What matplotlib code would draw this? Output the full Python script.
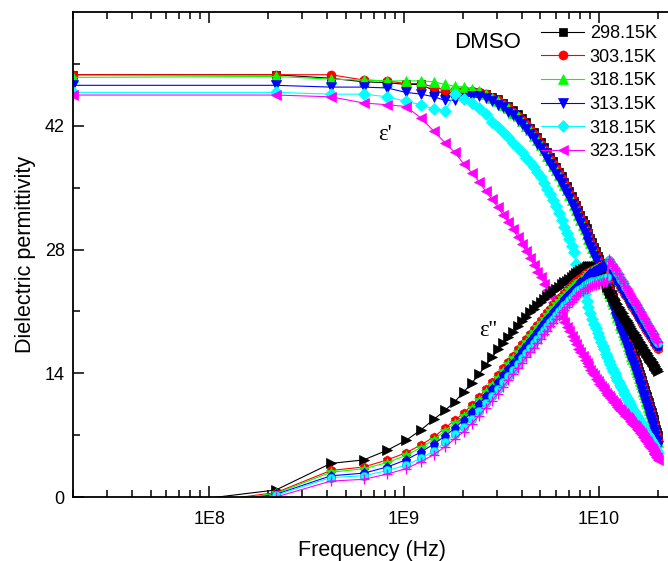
import matplotlib
matplotlib.use("Agg")
import matplotlib.pyplot as plt
from matplotlib.ticker import FixedLocator, NullFormatter, MultipleLocator
import numpy as np

plt.rcParams["font.family"] = ["Liberation Sans", "DejaVu Sans"]

# linear VNA sweep: 20 MHz .. 20.02 GHz, 101 points
freq = np.linspace(2e7, 2.002e10, 101)

labels = ["298.15K", "303.15K", "318.15K", "313.15K", "318.15K", "323.15K"]
colors = ["#000000", "#ff0000", "#00ff00", "#0000ff", "#00ffff", "#ff00ff"]

# real part (epsilon')
eps1_298 = [47.8, 47.8, 47.4, 47.0, 46.9, 46.7, 46.7, 46.0, 45.7, 45.8,
            45.9, 45.8, 45.7, 45.6, 45.3, 45.0, 44.6, 44.3, 43.8, 43.3,
            42.9, 42.4, 41.8, 41.3, 40.7, 40.2, 39.6, 39.1, 38.5, 38.0,
            37.4, 36.8, 36.3, 35.7, 35.2, 34.6, 34.1, 33.5, 33.0, 32.5,
            31.9, 31.4, 30.9, 30.4, 29.9, 29.3, 28.9, 28.3, 27.8, 27.3,
            26.9, 26.5, 25.9, 25.4, 24.9, 24.4, 24.0, 23.5, 23.0, 22.6,
            22.1, 21.6, 21.2, 20.8, 20.3, 19.9, 19.5, 19.1, 18.7, 18.3,
            17.9, 17.6, 17.2, 16.8, 16.5, 16.1, 15.7, 15.3, 15.0, 14.7,
            14.3, 13.9, 13.6, 13.2, 12.8, 12.5, 12.1, 11.7, 11.4, 11.0,
            10.7, 10.3, 9.9, 9.6, 9.2, 8.8, 8.5, 8.1, 7.7, 7.4, 7.0]
eps1_303 = [47.8, 47.8, 47.8, 47.2, 47.1, 46.8, 46.8, 46.4, 46.1, 46.1,
            46.1, 46.0, 45.8, 45.6, 45.2, 44.9, 44.5, 44.1, 43.6, 43.1,
            42.7, 42.2, 41.7, 41.1, 40.6, 40.0, 39.4, 38.9, 38.3, 37.8,
            37.2, 36.7, 36.1, 35.5, 35.0, 34.4, 33.9, 33.3, 32.8, 32.2,
            31.7, 31.1, 30.5, 30.1, 29.5, 29.0, 28.5, 28.0, 27.5, 26.9,
            26.6, 26.0, 25.5, 25.0, 24.4, 24.0, 23.5, 23.0, 22.6, 22.1,
            21.6, 21.2, 20.7, 20.3, 19.9, 19.4, 19.0, 18.7, 18.2, 17.8,
            17.5, 17.1, 16.7, 16.4, 16.0, 15.6, 15.2, 14.9, 14.5, 14.2,
            13.9, 13.5, 13.2, 12.8, 12.4, 12.0, 11.7, 11.3, 10.9, 10.6,
            10.2, 9.8, 9.5, 9.1, 8.7, 8.4, 8.0, 7.6, 7.2, 6.9, 6.5]
eps1_318a = [47.5, 47.6, 47.3, 47.2, 47.1, 47.1, 47.1, 47.0, 46.7, 46.5,
             46.4, 46.2, 46.0, 45.6, 45.2, 44.8, 44.4, 44.0, 43.5, 43.1,
             42.6, 42.0, 41.5, 40.9, 40.4, 39.8, 39.3, 38.6, 38.1, 37.5,
             37.0, 36.4, 35.8, 35.3, 34.7, 34.2, 33.6, 33.0, 32.5, 31.9,
             31.4, 30.8, 30.3, 29.8, 29.2, 28.7, 28.2, 27.7, 27.2, 26.7,
             26.2, 25.6, 25.2, 24.6, 24.1, 23.6, 23.1, 22.7, 22.2, 21.8,
             21.3, 20.8, 20.4, 20.0, 19.5, 19.1, 18.7, 18.3, 17.9, 17.5,
             17.1, 16.8, 16.4, 16.0, 15.6, 15.3, 14.9, 14.5, 14.1, 13.9,
             13.5, 13.1, 12.8, 12.4, 12.0, 11.7, 11.3, 10.9, 10.6, 10.2,
             9.9, 9.5, 9.1, 8.8, 8.4, 8.0, 7.7, 7.3, 6.9, 6.6, 6.2]
eps1_313 = [46.6, 46.6, 46.4, 46.4, 46.3, 45.8, 45.6, 45.3, 44.9, 44.9,
            45.2, 45.4, 45.4, 45.2, 44.8, 44.4, 44.1, 43.6, 43.2, 42.7,
            42.2, 41.7, 41.1, 40.6, 40.0, 39.5, 38.9, 38.3, 37.7, 37.2,
            36.6, 36.0, 35.5, 34.9, 34.4, 33.8, 33.2, 32.7, 32.1, 31.6,
            31.0, 30.5, 29.9, 29.4, 28.9, 28.3, 27.8, 27.3, 26.8, 26.3,
            25.8, 25.3, 24.8, 24.2, 23.7, 23.2, 22.8, 22.3, 21.8, 21.4,
            20.9, 20.4, 20.0, 19.6, 19.1, 18.7, 18.3, 18.0, 17.5, 17.1,
            16.7, 16.4, 16.0, 15.6, 15.3, 14.9, 14.5, 14.1, 13.8, 13.5,
            13.1, 12.7, 12.4, 12.0, 11.6, 11.3, 10.9, 10.5, 10.2, 9.8,
            9.5, 9.1, 8.7, 8.4, 8.0, 7.6, 7.3, 6.9, 6.5, 6.2, 5.8]
eps1_318b = [45.8, 45.8, 45.6, 45.6, 45.3, 44.8, 44.4, 43.9, 43.7, 45.6,
             45.1, 44.6, 44.0, 43.3, 42.5, 41.9, 41.3, 40.8, 40.1, 39.5,
             39.0, 38.4, 37.9, 37.3, 36.8, 36.2, 35.6, 34.9, 34.3, 33.6,
             32.9, 32.1, 31.4, 30.6, 29.9, 29.2, 28.4, 27.7, 26.4, 25.6,
             24.7, 23.8, 23.0, 22.2, 21.5, 20.8, 20.2, 19.6, 19.1, 18.6,
             18.1, 17.6, 17.1, 16.7, 16.2, 15.8, 15.4, 15.0, 14.6, 14.3,
             14.0, 13.6, 13.3, 13.0, 12.7, 12.4, 12.1, 11.8, 11.5, 11.2,
             11.0, 10.7, 10.5, 10.2, 10.0, 9.7, 9.5, 9.3, 9.1, 8.9,
             8.7, 8.5, 8.3, 8.1, 7.9, 7.7, 7.5, 7.3, 7.1, 7.0,
             6.8, 6.6, 6.4, 6.2, 6.0, 5.9, 5.7, 5.5, 5.3, 5.2, 5.0]
eps1_323 = [45.5, 45.5, 45.3, 44.6, 44.4, 44.2, 42.9, 41.4, 40.1, 39.0,
            37.7, 36.7, 35.7, 34.6, 33.7, 32.8, 31.9, 31.1, 30.3, 29.4,
            28.6, 27.8, 27.0, 26.3, 25.5, 24.9, 24.1, 23.4, 22.8, 22.1,
            21.5, 20.9, 20.4, 19.8, 19.2, 18.8, 18.2, 17.8, 17.3, 16.8,
            16.4, 16.0, 15.5, 15.2, 14.8, 14.4, 14.0, 13.8, 13.4, 13.1,
            12.8, 12.6, 12.3, 12.1, 11.8, 11.6, 11.4, 11.2, 11.0, 10.8,
            10.6, 10.4, 10.2, 10.0, 9.9, 9.7, 9.5, 9.4, 9.2, 9.1,
            8.9, 8.8, 8.6, 8.5, 8.3, 8.2, 8.0, 7.9, 7.7, 7.6,
            7.5, 7.3, 7.2, 7.0, 6.8, 6.7, 6.5, 6.3, 6.2, 6.0,
            5.8, 5.7, 5.5, 5.4, 5.2, 5.0, 4.9, 4.7, 4.5, 4.4, 4.2]

# imaginary part (epsilon'')
eps2_298 = [-2.0, 0.8, 3.8, 4.2, 5.3, 6.4, 7.6, 8.8, 9.8, 10.8,
            11.9, 12.9, 13.9, 14.9, 15.8, 16.7, 17.4, 18.1, 18.7, 19.3,
            19.9, 20.4, 20.9, 21.3, 21.7, 22.1, 22.4, 22.7, 23.0, 23.3,
            23.5, 23.8, 24.1, 24.3, 24.5, 24.7, 24.9, 25.1, 25.3, 25.5,
            25.7, 25.8, 25.9, 26.0, 26.1, 26.2, 26.2, 26.2, 26.1, 26.0,
            25.8, 25.5, 25.1, 24.7, 24.3, 23.8, 23.4, 23.1, 22.8, 22.6,
            22.3, 22.0, 21.8, 21.5, 21.3, 21.0, 20.8, 20.5, 20.3, 20.0,
            19.8, 19.6, 19.4, 19.1, 18.9, 18.7, 18.5, 18.3, 18.1, 17.9,
            17.7, 17.5, 17.3, 17.2, 17.0, 16.8, 16.6, 16.4, 16.3, 16.1,
            15.9, 15.7, 15.6, 15.4, 15.3, 15.1, 14.9, 14.8, 14.6, 14.5, 14.3]
eps2_303 = [-2.5, 0.5, 3.0, 3.4, 4.2, 5.0, 5.9, 6.8, 7.8, 8.7,
            9.5, 10.4, 11.3, 12.2, 13.0, 13.8, 14.6, 15.3, 16.0, 16.7,
            17.3, 17.9, 18.5, 19.0, 19.5, 20.0, 20.5, 20.9, 21.3, 21.7,
            22.1, 22.5, 22.8, 23.1, 23.4, 23.7, 24.0, 24.2, 24.4, 24.6,
            24.8, 25.0, 25.2, 25.3, 25.5, 25.6, 25.7, 25.8, 25.9, 26.0,
            26.1, 26.1, 26.2, 26.2, 26.2, 26.1, 26.0, 25.7, 25.4, 25.2,
            24.9, 24.6, 24.4, 24.1, 23.9, 23.6, 23.4, 23.1, 22.9, 22.6,
            22.4, 22.2, 22.0, 21.7, 21.5, 21.3, 21.1, 20.9, 20.7, 20.5,
            20.3, 20.1, 19.9, 19.7, 19.5, 19.3, 19.1, 18.9, 18.8, 18.6,
            18.4, 18.2, 18.1, 17.9, 17.8, 17.6, 17.4, 17.3, 17.1, 17.0, 16.8]
eps2_318a = [-2.7, 0.4, 2.8, 3.2, 3.9, 4.7, 5.6, 6.5, 7.5, 8.4,
             9.2, 10.1, 11.0, 11.9, 12.7, 13.5, 14.3, 15.0, 15.7, 16.4,
             17.0, 17.6, 18.2, 18.7, 19.2, 19.7, 20.2, 20.6, 21.0, 21.4,
             21.8, 22.2, 22.5, 22.8, 23.1, 23.4, 23.7, 23.9, 24.1, 24.3,
             24.5, 24.7, 24.9, 25.1, 25.3, 25.4, 25.6, 25.7, 25.8, 25.9,
             26.0, 26.1, 26.2, 26.3, 26.3, 26.3, 26.2, 25.9, 25.6, 25.4,
             25.1, 24.8, 24.6, 24.3, 24.1, 23.8, 23.6, 23.3, 23.1, 22.8,
             22.6, 22.4, 22.2, 21.9, 21.7, 21.5, 21.3, 21.1, 20.9, 20.7,
             20.5, 20.3, 20.1, 19.9, 19.7, 19.5, 19.3, 19.1, 19.0, 18.8,
             18.6, 18.4, 18.3, 18.1, 18.0, 17.8, 17.6, 17.5, 17.3, 17.2, 17.0]
eps2_313 = [-3.0, 0.3, 2.4, 2.7, 3.4, 4.2, 5.1, 6.0, 6.9, 7.8,
            8.7, 9.6, 10.5, 11.4, 12.2, 13.0, 13.8, 14.5, 15.2, 15.9,
            16.5, 17.1, 17.7, 18.2, 18.7, 19.2, 19.7, 20.1, 20.5, 20.9,
            21.3, 21.7, 22.0, 22.4, 22.7, 23.0, 23.3, 23.6, 23.8, 24.0,
            24.3, 24.5, 24.7, 24.9, 25.1, 25.3, 25.4, 25.6, 25.7, 25.8,
            25.9, 26.0, 26.1, 26.2, 26.3, 26.3, 26.2, 26.0, 25.7, 25.4,
            25.1, 24.9, 24.6, 24.4, 24.1, 23.9, 23.6, 23.4, 23.1, 22.9,
            22.6, 22.4, 22.2, 22.0, 21.8, 21.6, 21.3, 21.1, 20.9, 20.7,
            20.5, 20.3, 20.2, 20.0, 19.8, 19.6, 19.4, 19.2, 19.0, 18.9,
            18.7, 18.5, 18.4, 18.2, 18.0, 17.9, 17.7, 17.6, 17.4, 17.3, 17.1]
eps2_318b = [-3.2, 0.2, 2.2, 2.4, 3.0, 3.6, 4.4, 5.2, 6.2, 7.1,
             7.9, 8.8, 9.7, 10.6, 11.4, 12.2, 13.0, 13.7, 14.4, 15.1,
             15.7, 16.3, 16.9, 17.4, 17.9, 18.4, 18.9, 19.3, 19.8, 20.2,
             20.6, 21.0, 21.4, 21.7, 22.0, 22.3, 22.6, 22.9, 23.2, 23.4,
             23.6, 23.8, 24.0, 24.1, 24.2, 24.3, 24.4, 24.5, 24.5, 24.6,
             24.6, 24.7, 24.7, 24.8, 24.8, 24.9, 26.8, 26.6, 26.3, 26.1,
             25.8, 25.6, 25.3, 25.1, 24.8, 24.6, 24.3, 24.1, 23.8, 23.6,
             23.3, 23.1, 22.9, 22.7, 22.4, 22.2, 22.0, 21.8, 21.6, 21.4,
             21.2, 21.0, 20.8, 20.6, 20.4, 20.2, 20.0, 19.8, 19.6, 19.4,
             19.2, 19.0, 18.8, 18.7, 18.5, 18.3, 18.1, 17.9, 17.8, 17.6, 17.4]
eps2_323 = [-3.5, 0.0, 1.8, 2.0, 2.6, 3.2, 4.0, 4.8, 5.7, 6.6,
            7.4, 8.3, 9.2, 10.1, 10.9, 11.7, 12.5, 13.2, 13.9, 14.6,
            15.2, 15.8, 16.4, 16.9, 17.4, 17.9, 18.4, 18.8, 19.3, 19.7,
            20.1, 20.5, 20.9, 21.2, 21.5, 21.8, 22.1, 22.4, 22.7, 22.9,
            23.1, 23.3, 23.5, 23.6, 23.7, 23.8, 23.9, 24.0, 24.0, 24.1,
            24.1, 24.2, 24.2, 24.3, 24.3, 24.4, 26.9, 26.7, 26.4, 26.2,
            25.9, 25.7, 25.4, 25.2, 24.9, 24.7, 24.4, 24.2, 23.9, 23.7,
            23.4, 23.2, 23.0, 22.8, 22.5, 22.3, 22.1, 21.9, 21.7, 21.5,
            21.3, 21.1, 20.9, 20.7, 20.5, 20.3, 20.1, 19.9, 19.7, 19.5,
            19.3, 19.1, 18.9, 18.8, 18.6, 18.4, 18.2, 18.0, 17.9, 17.7, 17.5]

eps1 = [eps1_298, eps1_303, eps1_318a, eps1_313, eps1_318b, eps1_323]
eps2 = [eps2_298, eps2_303, eps2_318a, eps2_313, eps2_318b, eps2_323]

fig = plt.figure(figsize=(6.68, 5.61), dpi=100)
# plot frame: left 73 px, top 12 px, bottom 497 px; right edge runs past the picture
ax = fig.add_axes([73 / 668, 1 - 497 / 561, 597 / 668, 485 / 561])

# epsilon' markers and epsilon'' markers (Origin symbol order)
m1 = ["s", "o", "^", "v", "D", "<"]
s1 = [6, 6.5, 7, 7, 6, 7.5]
m2 = [">", "h", "*", "p", "o", "+"]
s2 = [7.5, 6.5, 7, 6.5, 6, 7]

handles = []
for vals, c, m, s, lab in zip(eps1, colors, m1, s1, labels):
    h, = ax.plot(freq, vals, color=c, lw=0.8, marker=m, ms=s,
                 mec=c, mfc=c, mew=0.5, label=lab)
    handles.append(h)

for vals, c, m, s in zip(eps2, colors, m2, s2):
    mec = "#00b0c0" if c == "#00ffff" else c
    ax.plot(freq, vals, color=c, lw=0.8, marker=m, ms=s,
            mec=mec, mfc=c, mew=0.5 if m != "+" else 1.0)

ax.set_xscale("log")
ax.set_xlim(2e7, 2.31e10)
ax.set_ylim(0, 54.9)

ax.xaxis.set_major_locator(FixedLocator([1e8, 1e9, 1e10]))
ax.set_xticklabels(["1E8", "1E9", "1E10"])
ax.xaxis.set_minor_locator(FixedLocator(
    [k * 10.0 ** e for e in range(7, 11) for k in range(2, 10)]))
ax.xaxis.set_minor_formatter(NullFormatter())
ax.yaxis.set_major_locator(MultipleLocator(14))
ax.yaxis.set_minor_locator(MultipleLocator(7))

ax.tick_params(which="both", direction="in", top=True, right=False,
               width=1.1, labelsize=13)
ax.tick_params(axis="x", pad=10)
ax.tick_params(axis="y", pad=6)
ax.tick_params(which="major", length=8)
ax.tick_params(which="minor", length=5)
for sp in ax.spines.values():
    sp.set_linewidth(1.3)

ax.set_xlabel("Frequency (Hz)", fontsize=15.5, labelpad=9)
ax.set_ylabel("Dielectric permittivity", fontsize=15.5, labelpad=6)

ax.text(7.96e8, 41.0, "ε'", fontsize=16.5, ha="center", va="center",
        family=["Liberation Serif"])
ax.text(2.69e9, 18.9, "ε''", fontsize=16.5, ha="center", va="center",
        family=["Liberation Serif"])

fig.text(454 / 668, 1 - 42 / 561, "DMSO", fontsize=16, va="center")

fig.legend(handles=handles, loc="upper left",
           bbox_to_anchor=(541 / 668, 1 - 25 / 561), frameon=False,
           fontsize=13, handlelength=2.4, handletextpad=0.3,
           labelspacing=0.37, borderpad=0, borderaxespad=0)

fig.savefig("out.png", dpi=100)
